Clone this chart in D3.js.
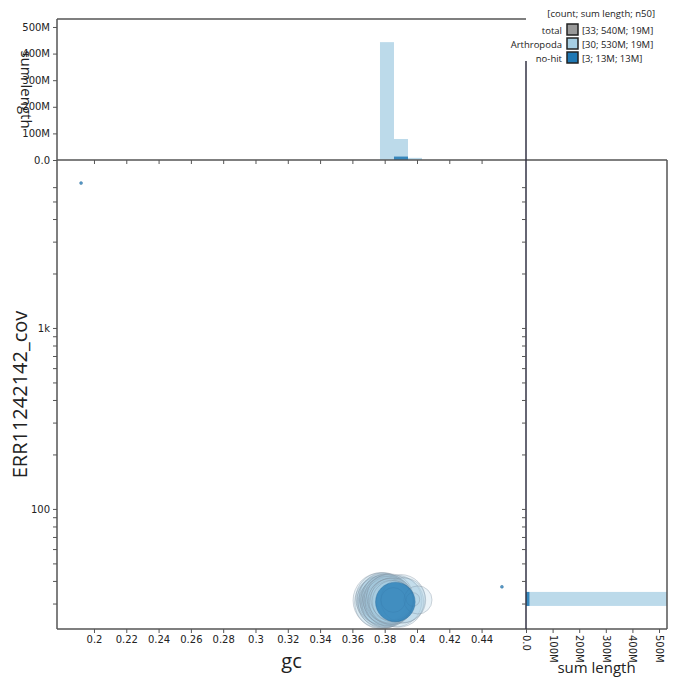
<!DOCTYPE html>
<html>
<head>
<meta charset="utf-8">
<script src="https://cdn.jsdelivr.net/npm/d3@7"></script>
<style>
  body { margin: 0; background: #fff; }
  .axis text { font-family: "DejaVu Sans", sans-serif; font-size: 10px; fill: #222; }
  .axis path, .axis line { stroke: #555; }
  .title { font-family: "Open Sans", sans-serif; fill: #222; }
  .legend text { font-family: "Open Sans", sans-serif; font-size: 9.5px; fill: #222; }
</style>
</head>
<body>
<div id="graph"></div>
<script>
// categories and legend
var categories = ["Arthropoda", "no-hit"];
var colours = ["#a6cee3", "#1f78b4"];
var legendRows = ["total", "Arthropoda", "no-hit"];
var legendStats = ["[33; 540M; 19M]", "[30; 530M; 19M]", "[3; 13M; 13M]"];

// Arthropoda contigs: gc, coverage, length (Mb)
var arthGc  = [0.3775, 0.3778, 0.3781, 0.3785, 0.3788, 0.3791, 0.3795, 0.3798, 0.3801, 0.3805,
               0.3808, 0.3811, 0.3815, 0.3818, 0.3821, 0.3825, 0.3828, 0.3832, 0.3835, 0.3838,
               0.3842, 0.3846, 0.3850, 0.3853,
               0.3870, 0.3885, 0.3900, 0.3915,
               0.3975, 0.4006];
var arthCov = [31.2, 30.4, 32.0, 30.9, 31.6, 30.2, 32.4, 31.0, 30.6, 31.8,
               30.0, 32.2, 31.3, 30.7, 31.9, 30.3, 31.5, 32.6, 30.8, 31.1,
               30.5, 31.7, 30.9, 31.4,
               31.0, 30.6, 31.8, 31.3,
               31.6, 31.4];
var arthLen = [25, 23, 22, 21.5, 21, 20.5, 20, 20, 19.5, 19.5,
               19, 19, 19, 18.5, 18.5, 18, 18, 17.5, 17, 16.5,
               16, 15, 14, 5,
               22, 21, 19.5, 16.5,
               1.5, 6.5];

// no-hit contigs
var noHitGc  = [0.3866, 0.1920, 0.4526];
var noHitCov = [30.6, 6320, 37.1];
var noHitLen = [12.9, 0.06, 0.05];

// axis ticks
var gcTicks = [0.2, 0.22, 0.24, 0.26, 0.28, 0.3, 0.32, 0.34, 0.36, 0.38, 0.4, 0.42, 0.44];
var covTicks = [30, 40, 50, 60, 70, 80, 90, 100, 200, 300, 400, 500, 600, 700, 800, 900,
                1000, 2000, 3000, 4000, 5000, 6000];
var covLabels = {100: "100", 1000: "1k"};
var lenTicks = [0, 100e6, 200e6, 300e6, 400e6, 500e6];

var contigs = [];
arthGc.forEach(function(d, i) {
  contigs.push({cat: 0, gc: d, cov: arthCov[i], len: arthLen[i] * 1e6});
});
noHitGc.forEach(function(d, i) {
  contigs.push({cat: 1, gc: d, cov: noHitCov[i], len: noHitLen[i] * 1e6});
});

var W = 680, H = 686;
var main = {left: 57, right: 526, top: 160, bottom: 629};
var topTop = 19, sideRight = 667;

var svg = d3.select("#graph").append("svg")
    .attr("width", W)
    .attr("height", H);

var x = d3.scaleLinear().domain([0.1771, 0.4675]).range([main.left, main.right]);
var y = d3.scaleLog().domain([21.7, 8476]).range([main.bottom, main.top]);
var hy = d3.scaleLinear().domain([0, 530e6]).range([main.top, topTop]);
var hx = d3.scaleLinear().domain([0, 530e6]).range([main.right, sideRight]);
var r = d3.scaleSqrt().domain([0, 25e6]).range([0, 27.6]);

// histogram bins
var gcStep = 0.008669, gcStart = 0.37709;
var gcThresh = d3.range(-24, 12).map(function(i) { return gcStart + i * gcStep; });
var lcStep = 0.0774, lcStart = 1.4639;
var covThresh = d3.range(-3, 32).map(function(i) { return Math.pow(10, lcStart + i * lcStep); });

var fmtLen = d3.format(".2s");

// top histogram
var gTop = svg.append("g");
categories.forEach(function(c, ci) {
  var bins = d3.bin().value(function(d) { return d.gc; })
      .domain(x.domain()).thresholds(gcThresh)(contigs.filter(function(d) { return d.cat === ci; }));
  gTop.selectAll(".tb" + ci)
      .data(bins.filter(function(b) { return b.length; }))
    .enter().append("rect")
      .attr("x", function(b) { return x(b.x0); })
      .attr("width", function(b) { return x(b.x1) - x(b.x0); })
      .attr("y", function(b) { return hy(d3.sum(b, function(d) { return d.len; })); })
      .attr("height", function(b) { return main.top - hy(d3.sum(b, function(d) { return d.len; })); })
      .style("fill", colours[ci])
      .style("fill-opacity", ci ? 0.85 : 0.75);
});

// side histogram
var gSide = svg.append("g");
categories.forEach(function(c, ci) {
  var bins = d3.bin().value(function(d) { return d.cov; })
      .domain(y.domain()).thresholds(covThresh)(contigs.filter(function(d) { return d.cat === ci; }));
  gSide.selectAll(".sb" + ci)
      .data(bins.filter(function(b) { return b.length; }))
    .enter().append("rect")
      .attr("x", main.right)
      .attr("width", function(b) { return hx(d3.sum(b, function(d) { return d.len; })) - main.right; })
      .attr("y", function(b) { return y(b.x1); })
      .attr("height", function(b) { return y(b.x0) - y(b.x1); })
      .style("fill", colours[ci])
      .style("fill-opacity", ci ? 0.85 : 0.75);
});

// scatter
var gDots = svg.append("g");
categories.forEach(function(c, ci) {
  var pts = contigs.filter(function(d) { return d.cat === ci; })
      .sort(function(a, b) { return b.len - a.len; });
  gDots.selectAll(".dot" + ci)
      .data(pts)
    .enter().append("circle")
      .attr("cx", function(d) { return x(d.gc); })
      .attr("cy", function(d) { return y(d.cov); })
      .attr("r", function(d) { return Math.max(1.5, r(d.len)); })
      .style("fill", colours[ci])
      .style("fill-opacity", ci ? 0.75 : 0.24)
      .style("stroke", ci ? "#1f5f8f" : "#7a8a99")
      .style("stroke-opacity", 0.35)
      .style("stroke-width", 1);
});

// axes: main
svg.append("g")
    .attr("class", "axis")
    .attr("transform", "translate(0," + main.bottom + ")")
    .call(d3.axisBottom(x).tickValues(gcTicks).tickSize(4)
      .tickFormat(function(d) { return String(+d.toFixed(2)); }))
    .call(function(g) { g.select(".domain").attr("d", "M" + main.left + ",0H" + main.right).style("stroke-width", 1.5); });

svg.append("g")
    .attr("class", "axis")
    .attr("transform", "translate(" + main.left + ",0)")
    .call(d3.axisLeft(y).tickValues(covTicks).tickSize(4)
      .tickFormat(function(d) { return covLabels[d] || ""; }))
    .call(function(g) { g.select(".domain").attr("d", "M0," + main.top + "V" + main.bottom).style("stroke-width", 1.5); });

// top histogram axes
svg.append("g")
    .attr("class", "axis")
    .attr("transform", "translate(" + main.left + ",0)")
    .call(d3.axisLeft(hy).tickValues(lenTicks).tickSize(4).tickFormat(fmtLen))
    .call(function(g) { g.select(".domain").attr("d", "M0," + topTop + "V" + main.top).style("stroke-width", 1.5); });
svg.append("g")
    .attr("class", "axis")
    .attr("transform", "translate(0," + main.top + ")")
    .call(d3.axisBottom(x).tickValues(gcTicks).tickSize(4).tickFormat(""))
    .call(function(g) { g.select(".domain").attr("d", "M" + main.left + ",0H" + sideRight).style("stroke-width", 1.5); });
svg.append("line")
    .attr("x1", main.left).attr("x2", main.right)
    .attr("y1", topTop).attr("y2", topTop)
    .style("stroke", "#555").style("stroke-width", 1.5);

// side histogram axes
svg.append("g")
    .attr("class", "axis")
    .attr("transform", "translate(0," + main.bottom + ")")
    .call(d3.axisBottom(hx).tickValues(lenTicks).tickSize(4).tickFormat(fmtLen))
    .call(function(g) {
      g.select(".domain").attr("d", "M" + main.right + ",0H" + sideRight).style("stroke-width", 1.5);
      g.selectAll(".tick text")
        .attr("transform", "rotate(90)")
        .attr("x", 6).attr("y", 0).attr("dy", "0.35em")
        .style("text-anchor", "start");
    });
svg.append("g")
    .attr("class", "axis")
    .attr("transform", "translate(" + main.right + ",0)")
    .call(d3.axisLeft(y).tickValues(covTicks).tickSize(4).tickFormat(""))
    .call(function(g) { g.select(".domain").attr("d", "M0,61V" + main.bottom).style("stroke", "#334").style("stroke-width", 1.5); });
svg.append("line")
    .attr("x1", sideRight).attr("x2", sideRight)
    .attr("y1", main.top).attr("y2", main.bottom)
    .style("stroke", "#555").style("stroke-width", 1.5);

// titles
svg.append("text").attr("class", "title")
    .attr("x", (main.left + main.right) / 2).attr("y", 668)
    .style("font-size", "20px").style("text-anchor", "middle")
    .text("gc");
svg.append("text").attr("class", "title")
    .attr("transform", "translate(27," + ((main.top + main.bottom) / 2) + ") rotate(-90)")
    .style("font-size", "20px").style("text-anchor", "middle")
    .text("ERR11242142_cov");
svg.append("text").attr("class", "title")
    .attr("transform", "translate(21," + ((topTop + main.top) / 2) + ") rotate(90)")
    .style("font-size", "15px").style("text-anchor", "middle")
    .text("sum length");
svg.append("text").attr("class", "title")
    .attr("x", (main.right + sideRight) / 2).attr("y", 673)
    .style("font-size", "15px").style("text-anchor", "middle")
    .text("sum length");

// legend
var leg = svg.append("g").attr("class", "legend");
leg.append("text")
    .attr("x", 655).attr("y", 17)
    .style("text-anchor", "end")
    .text("[count; sum length; n50]");
var legCol = ["#999999"].concat(colours);
legendRows.forEach(function(name, i) {
  var yy = 30 + i * 14;
  leg.append("text").attr("x", 562).attr("y", yy + 3.5)
      .style("text-anchor", "end").text(name);
  leg.append("rect").attr("x", 567).attr("y", yy - 6)
      .attr("width", 11).attr("height", 11)
      .style("fill", legCol[i]).style("stroke", "#222").style("stroke-width", 1.5);
  leg.append("text").attr("x", 582).attr("y", yy + 3.5)
      .text(legendStats[i]);
});
</script>
</body>
</html>
